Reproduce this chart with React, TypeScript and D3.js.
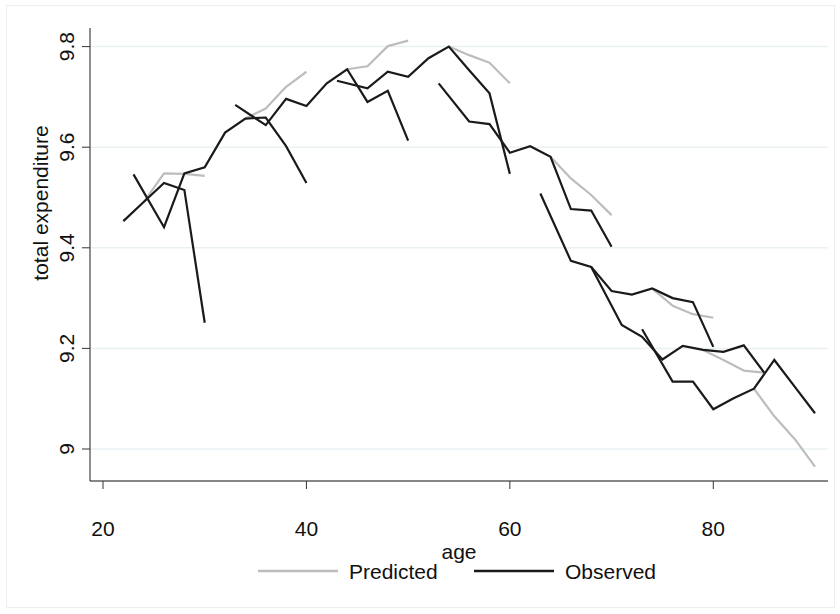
import React from "react";
import * as d3 from "d3";

// Cohort profiles of log total expenditure by age
const observedAges: number[][] = [
  [22, 24, 26, 28, 30],
  [23, 26, 28, 30, 32, 34, 36, 38, 40],
  [33, 36, 38, 40, 42, 44, 46, 48, 50],
  [43, 46, 48, 50, 52, 54, 56, 58, 60],
  [53, 56, 58, 60, 62, 64, 66, 68, 70],
  [63, 66, 68, 70, 72, 74, 76, 78, 80],
  [68, 71, 73, 75, 77, 79, 81, 83, 85],
  [73, 76, 78, 80, 82, 84, 86, 88, 90],
];
const observedValues: number[][] = [
  [9.453, 9.491, 9.529, 9.515, 9.251],
  [9.546, 9.441, 9.548, 9.56, 9.629, 9.657, 9.659, 9.602, 9.529],
  [9.684, 9.644, 9.696, 9.682, 9.727, 9.755, 9.69, 9.712, 9.613],
  [9.732, 9.717, 9.75, 9.74, 9.777, 9.8, 9.753, 9.707, 9.547],
  [9.727, 9.651, 9.646, 9.589, 9.602, 9.581, 9.477, 9.474, 9.402],
  [9.508, 9.374, 9.362, 9.314, 9.307, 9.319, 9.3, 9.292, 9.203],
  [9.362, 9.2465, 9.223, 9.178, 9.205, 9.197, 9.193, 9.206, 9.152],
  [9.238, 9.134, 9.134, 9.079, 9.101, 9.12, 9.177, 9.124, 9.071],
];
const predictedAges: number[][] = [
  [24, 26, 28, 30],
  [34, 36, 38, 40],
  [44, 46, 48, 50],
  [54, 56, 58, 60],
  [64, 66, 68, 70],
  [74, 76, 78, 80],
  [79, 81, 83, 85],
  [84, 86, 88, 90],
];
const predictedValues: number[][] = [
  [9.491, 9.548, 9.547, 9.543],
  [9.657, 9.677, 9.72, 9.75],
  [9.755, 9.761, 9.801, 9.812],
  [9.8, 9.783, 9.768, 9.727],
  [9.581, 9.538, 9.505, 9.465],
  [9.319, 9.285, 9.268, 9.261],
  [9.197, 9.177, 9.156, 9.152],
  [9.12, 9.065, 9.02, 8.965],
];
const xTicks = [20, 40, 60, 80];
const yTicks = [9, 9.2, 9.4, 9.6, 9.8];
const legendLabels = ["Predicted", "Observed"];

const W = 840;
const H = 614;
const plotLeft = 90;
const plotRight = 828;
const plotTop = 28;
const plotBottom = 481;
const gray = "#bdbdbd";
const black = "#1a1a1a";
const font = "'Liberation Sans', Arial, Helvetica, sans-serif";
const fs = 21;

export default function App() {
  const x = d3.scaleLinear().domain([20, 90]).range([103, 815]);
  const y = d3.scaleLinear().domain([9, 9.8]).range([449, 46.6]);
  const line = d3
    .line<[number, number]>()
    .x((d) => x(d[0]))
    .y((d) => y(d[1]));

  const pts = (ages: number[], vals: number[]) =>
    ages.map((a, i) => [a, vals[i]] as [number, number]);

  return (
    <svg
      width={W}
      height={H}
      style={{ position: "absolute", left: 0, top: 0, background: "#fff" }}
      fontFamily={font}
    >
      <rect x={0} y={0} width={W} height={H} fill="#fff" />
      <rect x={6.5} y={5.5} width={828} height={602} fill="none" stroke="#eaf0f1" strokeWidth={1} />

      {/* horizontal grid */}
      {yTicks.map((t) => (
        <line key={"g" + t} x1={plotLeft + 1} x2={plotRight} y1={y(t)} y2={y(t)} stroke="#eaf1f4" strokeWidth={1.5} />
      ))}

      {/* predicted profiles beneath observed */}
      {predictedAges.map((ages, i) => (
        <path key={"p" + i} d={line(pts(ages, predictedValues[i])) || ""} fill="none" stroke={gray} strokeWidth={2.2} strokeLinejoin="round" />
      ))}
      {observedAges.map((ages, i) => (
        <path key={"o" + i} d={line(pts(ages, observedValues[i])) || ""} fill="none" stroke={black} strokeWidth={2.2} strokeLinejoin="miter" />
      ))}

      {/* y axis */}
      <line x1={plotLeft} x2={plotLeft} y1={plotTop} y2={plotBottom} stroke="#444" strokeWidth={1.2} />
      {yTicks.map((t) => (
        <g key={"yt" + t}>
          <line x1={plotLeft - 8} x2={plotLeft} y1={y(t)} y2={y(t)} stroke="#333" strokeWidth={1} />
          <text
            transform={`translate(${74},${y(t)}) rotate(-90)`}
            textAnchor="middle"
            fontSize={fs}
            fill="#111"
          >
            {d3.format("~g")(t)}
          </text>
        </g>
      ))}
      <text transform={`translate(48,203) rotate(-90)`} textAnchor="middle" fontSize={fs} fill="#111">
        total expenditure
      </text>

      {/* x axis */}
      <line x1={plotLeft} x2={plotRight} y1={plotBottom} y2={plotBottom} stroke="#111" strokeWidth={1.2} />
      {xTicks.map((t) => (
        <g key={"xt" + t}>
          <line x1={x(t)} x2={x(t)} y1={plotBottom} y2={plotBottom + 8} stroke="#333" strokeWidth={1} />
          <text x={x(t)} y={536} textAnchor="middle" fontSize={fs} fill="#111">
            {t}
          </text>
        </g>
      ))}
      <text x={(plotLeft + plotRight) / 2} y={559} textAnchor="middle" fontSize={fs} fill="#111">
        age
      </text>

      {/* legend */}
      <line x1={258} x2={338} y1={571} y2={571} stroke={gray} strokeWidth={2.6} />
      <text x={349} y={578.5} fontSize={fs} fill="#111">{legendLabels[0]}</text>
      <line x1={474} x2={554} y1={571} y2={571} stroke={black} strokeWidth={2.6} />
      <text x={565} y={578.5} fontSize={fs} fill="#111">{legendLabels[1]}</text>
    </svg>
  );
}
